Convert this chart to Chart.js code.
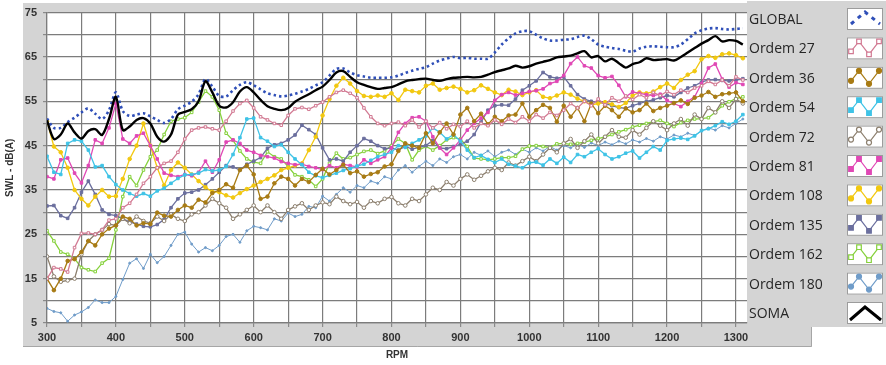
<!DOCTYPE html>
<html>
<head>
<meta charset="utf-8">
<script src="https://cdn.jsdelivr.net/npm/chart.js@4/dist/chart.umd.min.js"></script>
<style>
  body { margin: 0; background: #fff; }
  #wrap { position: relative; width: 886px; height: 365px; }
  #grafico { position: absolute; left: 0; top: 0; }
  .leg { position: absolute; left: 749px; font: 14px "Open Sans", sans-serif; color: #262626; line-height: 20px; white-space: nowrap; }
</style>
</head>
<body>
<div id="wrap">
  <canvas id="grafico" width="886" height="365"></canvas>
  <div id="legenda"></div>
</div>
<script>
// RPM (eixo x), passo de 10
const rpm = [
  300, 310, 320, 330, 340, 350, 360, 370, 380, 390,
  400, 410, 420, 430, 440, 450, 460, 470, 480, 490,
  500, 510, 520, 530, 540, 550, 560, 570, 580, 590,
  600, 610, 620, 630, 640, 650, 660, 670, 680, 690,
  700, 710, 720, 730, 740, 750, 760, 770, 780, 790,
  800, 810, 820, 830, 840, 850, 860, 870, 880, 890,
  900, 910, 920, 930, 940, 950, 960, 970, 980, 990,
  1000, 1010, 1020, 1030, 1040, 1050, 1060, 1070, 1080, 1090,
  1100, 1110, 1120, 1130, 1140, 1150, 1160, 1170, 1180, 1190,
  1200, 1210, 1220, 1230, 1240, 1250, 1260, 1270, 1280, 1290,
  1300, 1310
];

const global = [
  51.1, 49.0, 49.0, 50.3, 51.3, 52.5, 53.4, 52.2, 51.0, 53.0,
  57.0, 52.8, 51.7, 52.0, 52.3, 51.6, 50.8, 50.1, 51.0, 53.2,
  54.0, 54.9, 56.6, 60.0, 58.3, 56.2, 56.1, 57.5, 58.7, 59.3,
  58.6, 57.7, 56.8, 56.4, 56.1, 56.3, 56.7, 57.2, 57.8, 58.6,
  59.3, 60.8, 62.3, 62.4, 61.5, 60.9, 60.6, 60.3, 60.3, 60.3,
  60.4, 60.8, 61.4, 61.9, 62.3, 62.7, 63.5, 64.2, 64.6, 65.0,
  64.7, 64.8, 64.6, 64.6, 64.6, 66.0, 67.8, 69.2, 70.3, 70.8,
  70.8, 70.0, 69.2, 68.7, 68.7, 68.9, 69.0, 69.5, 69.8, 69.0,
  67.8, 67.3, 67.0, 66.8, 66.4, 66.2, 66.9, 67.3, 67.4, 67.3,
  67.2, 67.2, 67.8, 69.0, 70.3, 71.0, 71.4, 71.5, 71.3, 71.2,
  71.3, 71.5
];

const ordem27 = [
  15.0, 17.5, 17.2, 16.5, 22.0, 25.2, 25.3, 25.0, 26.0, 28.2,
  28.5, 31.0, 32.0, 34.0, 36.5, 38.0, 40.0, 41.0, 41.5, 43.5,
  46.5, 48.5, 49.0, 49.2, 48.8, 48.5, 50.5, 52.8, 54.5, 55.2,
  53.5, 51.5, 50.8, 50.0, 49.6, 51.8, 53.3, 53.6, 53.2, 54.0,
  54.8, 56.0, 57.0, 57.5, 56.8, 55.8, 53.5, 51.5, 50.0, 49.5,
  50.0, 50.3, 49.5, 50.8, 49.2, 50.5, 49.0, 50.2, 48.8, 49.8,
  49.3, 50.5, 49.0, 50.0, 49.5, 50.8, 49.8, 51.0, 50.2, 51.5,
  50.5, 52.0, 51.2, 52.5, 51.8, 53.0, 54.5, 53.5, 55.0, 54.0,
  55.5, 54.2, 55.8, 55.0, 56.2, 55.4, 56.5, 55.8, 57.0, 56.3,
  57.2, 56.5, 57.5, 57.0, 58.0, 58.5, 59.5, 58.8, 59.8, 58.5,
  60.5, 59.8
];

const ordem36 = [
  15.0, 12.4, 15.0, 19.0, 19.4, 21.0, 23.5, 22.5, 25.0, 26.3,
  27.0, 29.0, 28.5, 27.0, 27.5, 27.3, 29.9, 29.2, 29.0, 30.5,
  31.5, 31.0, 32.8, 32.2, 34.3, 35.0, 36.3, 35.5, 39.5, 40.5,
  38.5, 33.0, 33.5, 36.5, 38.0, 37.5, 36.0, 37.5, 36.8, 38.4,
  39.8, 38.5, 39.5, 40.7, 38.8, 39.2, 38.0, 38.6, 39.0, 40.3,
  40.8, 43.8, 45.5, 45.0, 44.5, 47.8, 45.5, 48.0, 50.0, 47.5,
  52.0, 53.5, 50.5, 52.2, 49.8, 51.5, 50.5, 51.8, 52.0, 54.5,
  51.5, 53.0, 54.2, 53.5, 50.4, 54.0, 51.5, 53.5, 50.5, 54.5,
  52.3, 54.0, 53.0, 51.5, 53.4, 52.5, 53.0, 54.5, 52.8, 53.5,
  54.0, 54.6, 55.2, 54.4, 55.8, 56.3, 57.1, 56.0, 56.6, 56.8,
  57.0, 55.0
];

const ordem54 = [
  42.6, 39.0, 38.5, 45.5, 46.3, 46.0, 44.0, 40.2, 40.5, 38.0,
  36.2, 35.0, 34.2, 33.6, 34.2, 33.6, 34.8, 35.4, 36.5, 37.6,
  38.4, 38.5, 38.8, 39.6, 39.3, 39.5, 40.3, 43.0, 46.8, 51.0,
  51.2, 46.8, 46.0, 44.8, 45.2, 43.5, 42.0, 40.7, 39.0, 38.2,
  37.8, 38.3, 38.8, 39.4, 39.8, 40.4, 40.8, 41.7, 42.5, 43.0,
  43.5, 45.0, 44.6, 45.5, 46.3, 47.2, 49.0, 48.0, 46.5, 47.5,
  46.0, 44.0, 42.3, 42.8, 41.9, 41.2, 42.0, 40.8, 40.4, 40.0,
  41.1, 41.3, 40.6, 42.0, 41.0, 42.4, 41.2, 43.0, 42.5, 43.5,
  44.3, 43.0, 42.0, 42.5, 43.3, 43.8, 42.2, 43.5, 44.8, 44.0,
  46.2, 46.5, 46.7, 46.4, 47.2, 48.4, 48.8, 49.5, 50.4, 49.8,
  50.5, 52.0
];

const ordem72 = [
  20.0, 15.5, 14.3, 14.6, 15.0, 20.5, 23.5, 25.0, 26.0, 27.3,
  27.0, 28.5, 27.5, 29.0, 28.0, 27.5, 29.0, 28.0, 29.5, 28.5,
  28.0, 29.5, 30.0, 31.5, 33.0, 32.0, 31.0, 28.5, 29.5, 30.5,
  31.5, 30.0, 31.5, 30.0, 28.5, 30.5, 31.3, 32.0, 30.5, 31.5,
  32.2, 31.8, 33.5, 32.5, 31.8, 32.3, 31.0, 32.5, 32.0, 33.0,
  33.4, 32.0, 31.5, 33.0, 32.5, 34.0, 35.5, 35.0, 36.8, 36.0,
  37.5, 38.5, 37.3, 38.2, 39.2, 40.0, 39.5, 41.2, 40.5, 41.5,
  42.5, 41.5, 43.0, 44.5, 43.5, 45.5, 46.5, 44.5, 46.0, 47.5,
  45.5, 47.0, 48.5, 47.0, 46.8, 48.5, 47.5, 49.0, 50.5, 49.5,
  48.5, 50.0, 51.0, 49.5, 52.0, 51.0, 53.5, 52.5, 55.0, 53.5,
  55.5, 54.5
];

const ordem81 = [
  38.0, 37.5, 41.8, 42.2, 38.8, 36.6, 40.5, 46.3, 45.5, 49.0,
  54.5, 46.5, 45.5, 47.2, 47.8, 45.0, 42.0, 38.8, 38.3, 38.0,
  38.5, 38.2, 39.0, 41.5, 39.0, 41.8, 45.8, 46.3, 45.5, 44.0,
  43.5, 42.8, 42.5, 42.2, 41.4, 41.0, 40.7, 40.8, 40.3, 40.0,
  39.6, 40.5, 40.0, 40.8, 40.5, 40.2, 41.8, 41.0, 41.8, 42.5,
  44.5, 48.0, 50.0, 51.3, 51.5, 50.5, 47.0, 44.5, 43.0, 44.5,
  46.3, 48.5, 50.0, 51.2, 52.5, 55.2, 56.5, 57.0, 56.4, 56.8,
  57.2, 57.4, 57.8, 59.0, 59.5, 60.8, 63.5, 65.0, 63.0, 62.5,
  60.8, 60.3, 60.6, 58.6, 56.0, 57.1, 56.8, 56.5, 56.3, 56.6,
  55.2, 54.5, 53.8, 55.0, 56.0, 59.0, 62.5, 63.4, 60.0, 58.2,
  59.2, 58.8
];

const ordem108 = [
  50.5, 44.8, 43.5, 40.0, 35.0, 33.0, 31.5, 33.5, 35.0, 33.5,
  33.6, 37.5, 42.0, 45.0, 50.0, 45.0, 40.0, 36.0, 39.5, 41.2,
  40.0, 38.5, 37.0, 35.6, 34.6, 34.5, 33.8, 33.3, 34.3, 35.2,
  36.0, 36.8, 37.5, 38.3, 39.5, 40.0, 40.5, 41.0, 44.0, 47.0,
  51.8, 55.5, 58.5, 60.3, 59.0, 57.3, 56.2, 56.0, 56.3, 56.0,
  56.8, 55.3, 57.6, 57.3, 57.0, 58.5, 59.0, 57.6, 58.0, 58.3,
  57.8, 57.0, 57.5, 58.6, 57.8, 57.0, 56.4, 57.6, 57.2, 56.4,
  57.0, 57.5, 56.0, 55.7, 56.3, 57.0, 56.5, 55.6, 55.0, 54.2,
  54.5, 54.8, 54.3, 53.7, 54.6, 56.3, 57.0, 56.8, 57.2, 58.2,
  59.0, 58.0, 59.8, 61.0, 61.8, 64.5, 65.2, 64.8, 65.6, 65.8,
  65.4, 64.7
];

const ordem135 = [
  31.4, 31.5, 29.2, 28.6, 31.0, 34.5, 37.0, 34.0, 30.5, 29.5,
  29.2, 28.5, 27.8, 27.3, 26.8, 26.7, 27.2, 28.4, 31.0, 33.0,
  34.3, 34.5, 35.0, 36.2, 37.5, 39.0, 40.5, 40.2, 39.5, 40.8,
  41.5, 42.3, 44.4, 45.2, 45.5, 46.3, 47.4, 49.6, 48.6, 47.5,
  44.5, 41.8, 42.0, 41.5, 43.5, 45.0, 46.6, 46.0, 45.0, 44.3,
  44.5, 44.0, 44.8, 44.2, 44.6, 45.0, 46.2, 44.5, 44.3, 44.8,
  45.3, 46.0, 47.5, 50.3, 53.0, 54.0, 54.2, 54.1, 55.5, 57.5,
  58.5, 59.6, 61.5, 60.5, 60.2, 60.5, 58.5, 56.5, 55.5, 55.0,
  54.8, 54.5, 54.0, 53.6, 53.4, 54.0, 54.5, 55.0, 55.3, 55.8,
  56.3, 56.0, 57.0, 58.0, 58.5, 59.3, 59.8, 59.9, 59.7, 59.6,
  59.8, 60.1
];

const ordem162 = [
  25.8, 23.5, 21.0, 20.5, 19.5, 17.5, 17.0, 16.6, 18.5, 19.6,
  26.0, 33.5, 38.0, 36.0, 39.5, 42.5, 44.0, 47.5, 50.5, 51.0,
  51.3, 52.5, 54.8, 57.3, 56.0, 53.0, 47.8, 46.2, 43.8, 42.0,
  41.3, 41.0, 43.6, 42.5, 42.0, 40.3, 38.4, 38.0, 37.3, 35.8,
  37.5, 41.0, 43.3, 42.0, 42.3, 43.0, 43.7, 44.0, 43.2, 43.8,
  45.0, 46.5, 45.5, 41.8, 44.0, 44.8, 44.0, 45.0, 46.3, 46.8,
  46.5, 44.8, 42.2, 42.0, 41.8, 42.0, 42.3, 42.3, 42.6, 44.2,
  44.9, 45.0, 44.8, 44.6, 45.4, 45.5, 45.3, 45.5, 45.8, 46.2,
  46.6, 47.0, 47.5, 48.1, 48.6, 49.2, 49.6, 50.0, 50.4, 50.7,
  50.0, 49.3, 50.2, 50.7, 51.0, 51.1, 51.3, 52.5, 54.0, 54.9,
  55.6, 56.0
];

const ordem180 = [
  8.3, 7.6, 7.3, 5.4, 6.8, 7.5, 8.5, 10.2, 9.6, 9.6,
  11.0, 14.8, 18.5, 19.5, 17.3, 20.5, 18.6, 20.0, 22.5, 25.0,
  25.5, 22.8, 21.0, 22.0, 21.3, 22.5, 24.5, 25.0, 23.2, 25.8,
  26.8, 26.5, 26.0, 28.5, 28.0, 29.8, 29.0, 29.5, 31.3, 31.0,
  33.6, 32.5, 34.0, 35.5, 34.5, 36.0, 35.5, 37.0, 36.5, 38.0,
  37.5, 39.5, 40.5, 39.0, 40.3, 41.5, 40.5, 42.0, 41.2, 42.5,
  43.0, 42.0, 43.5, 42.8, 43.8, 42.5, 43.5, 44.0, 43.0, 44.2,
  43.5, 44.5, 43.8, 44.8, 44.0, 45.0, 44.5, 45.3, 44.6, 45.6,
  45.0, 45.8, 45.2, 46.0, 45.4, 46.3, 45.8, 46.6, 46.0, 47.0,
  46.5, 47.4, 47.0, 47.8, 47.3, 48.3, 49.0, 48.5, 49.5, 49.0,
  50.0, 51.0
];

const soma = [
  50.7, 46.5, 47.5, 50.0, 48.0, 46.6, 48.3, 48.7, 47.4, 51.0,
  56.0, 48.5, 49.3, 50.8, 51.2, 50.0, 47.0, 45.9, 47.5, 52.0,
  52.6, 53.2, 55.0, 59.5, 57.0, 54.0, 53.6, 54.8, 57.2, 58.2,
  57.0, 55.3, 53.9, 53.3, 53.0, 53.5, 54.9, 55.8, 56.6, 57.5,
  58.3, 59.8, 61.5, 61.8, 60.5, 59.3, 58.7, 58.2, 57.8, 58.0,
  58.2, 58.8, 59.5, 59.8, 60.0, 60.1, 59.8, 59.6, 60.0, 60.3,
  60.4, 60.5, 60.4, 60.5, 61.0, 61.6, 62.0, 62.4, 63.0, 62.6,
  62.9, 63.5, 63.9, 64.3, 64.9, 65.1, 65.3, 65.8, 66.3, 64.9,
  65.2, 64.0, 64.6, 63.6, 62.6, 63.4, 63.8, 64.7, 64.3, 64.4,
  64.5, 64.2, 65.0, 66.0, 67.0, 68.0, 68.8, 69.7, 68.5, 68.8,
  68.6, 67.8
];

const xTicks = [300, 400, 500, 600, 700, 800, 900, 1000, 1100, 1200, 1300];
const yTicks = [5, 15, 25, 35, 45, 55, 65, 75];

// series: nome, valores, cor, marcador
const series = [
  { nome: 'GLOBAL', vals: global, cor: '#2f4fb8', estilo: 'global' },
  { nome: 'Ordem 27', vals: ordem27, cor: '#d27a93', ponto: 'rect', vazio: true },
  { nome: 'Ordem 36', vals: ordem36, cor: '#a87b14', ponto: 'circle' },
  { nome: 'Ordem 54', vals: ordem54, cor: '#3fc3e6', ponto: 'rect' },
  { nome: 'Ordem 72', vals: ordem72, cor: '#8c7f6e', ponto: 'circle', vazio: true },
  { nome: 'Ordem 81', vals: ordem81, cor: '#e048b5', ponto: 'rect' },
  { nome: 'Ordem 108', vals: ordem108, cor: '#f2c80f', ponto: 'circle' },
  { nome: 'Ordem 135', vals: ordem135, cor: '#6b6f9e', ponto: 'rect' },
  { nome: 'Ordem 162', vals: ordem162, cor: '#86d13c', ponto: 'rect', vazio: true },
  { nome: 'Ordem 180', vals: ordem180, cor: '#6f9cc9', ponto: 'circle', fino: true },
  { nome: 'SOMA', vals: soma, cor: '#000000', estilo: 'soma' }
];

const pontos = (vals) => vals.map((v, i) => ({ x: rpm[i], y: v }));

const datasets = series.map((s, i) => {
  if (s.estilo === 'global') {
    return { label: s.nome, data: pontos(s.vals), borderColor: s.cor, borderWidth: 2.6,
      borderDash: [2.5, 3], pointRadius: 0, tension: 0.3, order: 1 };
  }
  if (s.estilo === 'soma') {
    return { label: s.nome, data: pontos(s.vals), borderColor: s.cor, borderWidth: 2.4,
      pointRadius: 0, tension: 0.3, order: 0 };
  }
  return {
    label: s.nome,
    data: pontos(s.vals),
    borderColor: s.cor,
    borderWidth: s.fino ? 1 : 1.3,
    pointStyle: s.ponto,
    pointRadius: s.fino ? 1 : 1.8,
    pointBorderWidth: 1,
    pointBackgroundColor: s.vazio ? '#ffffff' : s.cor,
    pointBorderColor: s.cor,
    tension: 0,
    order: 2 + i
  };
});

// fundo cinza, área branca e painel da legenda
const moldura = {
  id: 'moldura',
  beforeDraw(chart) {
    const ctx = chart.ctx;
    const a = chart.chartArea;
    ctx.save();
    ctx.fillStyle = '#ffffff';
    ctx.fillRect(0, 0, 886, 365);
    ctx.fillStyle = '#d4d4d4';
    ctx.fillRect(23, 3, 724, 344);
    ctx.fillRect(747, 1, 139, 326);
    ctx.fillRect(747, 327, 65, 20);
    ctx.strokeStyle = '#a6a6a6';
    ctx.lineWidth = 1;
    ctx.beginPath();
    ctx.moveTo(23, 346.5); ctx.lineTo(811.5, 346.5); ctx.lineTo(811.5, 327);
    ctx.stroke();
    ctx.fillStyle = '#ffffff';
    ctx.fillRect(a.left, a.top, a.right - a.left, a.bottom - a.top);
    ctx.restore();
  },
  afterDraw(chart) {
    const ctx = chart.ctx;
    ctx.save();
    series.forEach((s, i) => {
      const cy = 18 + i * 29.4;
      ctx.fillStyle = '#ffffff';
      ctx.fillRect(847, cy - 10, 36, 22);
      ctx.strokeStyle = '#9c9c9c';
      ctx.lineWidth = 1;
      ctx.strokeRect(847.5, cy - 9.5, 35, 21);
      ctx.strokeStyle = s.cor;
      if (s.estilo === 'global') {
        ctx.lineWidth = 3;
        ctx.setLineDash([4, 5]);
        ctx.beginPath();
        ctx.moveTo(851, cy + 6); ctx.lineTo(865, cy - 6); ctx.lineTo(880, cy + 6);
        ctx.stroke();
        ctx.setLineDash([]);
        return;
      }
      if (s.estilo === 'soma') {
        ctx.lineWidth = 3;
        ctx.beginPath();
        ctx.moveTo(850, cy + 8); ctx.lineTo(865, cy - 5); ctx.lineTo(881, cy + 8);
        ctx.stroke();
        return;
      }
      const pts = [[851, cy + 4], [859, cy - 6], [869, cy + 7], [879, cy - 6]];
      ctx.lineWidth = 1.2;
      ctx.beginPath();
      pts.forEach((p, k) => (k ? ctx.lineTo(p[0], p[1]) : ctx.moveTo(p[0], p[1])));
      ctx.stroke();
      pts.forEach(p => {
        ctx.fillStyle = s.vazio ? '#ffffff' : s.cor;
        ctx.beginPath();
        if (s.ponto === 'rect') ctx.rect(p[0] - 2.3, p[1] - 2.3, 4.6, 4.6);
        else ctx.arc(p[0], p[1], 2.5, 0, Math.PI * 2);
        ctx.fill();
        ctx.stroke();
      });
    });
    ctx.restore();
  }
};

const fonteEixo = { family: '"Liberation Sans", Arial, sans-serif', size: 11, weight: 'bold' };

new Chart(document.getElementById('grafico'), {
  type: 'line',
  data: { datasets: datasets },
  options: {
    responsive: false,
    animation: false,
    layout: { padding: { top: 10, right: 139, left: 0, bottom: 0 } },
    plugins: { legend: { display: false }, tooltip: { enabled: false } },
    scales: {
      x: {
        type: 'linear',
        min: 300,
        max: 1316,
        afterFit: (s) => { s.height = 42; },
        ticks: {
          stepSize: 50,
          includeBounds: false,
          color: '#333',
          font: fonteEixo,
          padding: 4,
          maxRotation: 0,
          autoSkip: false,
          callback: (v) => (xTicks.includes(v) ? String(v) : '')
        },
        grid: { color: '#7c7c7c', lineWidth: 1.2, tickLength: 4, tickColor: '#8a8a8a' },
        border: { color: '#7c7c7c', width: 1.2 },
        title: { display: true, text: 'RPM', color: '#333', font: { family: '"Liberation Sans", Arial, sans-serif', size: 10, weight: 'bold' }, padding: { top: 2, bottom: 4 } }
      },
      y: {
        min: 5,
        max: 75,
        afterFit: (s) => { s.width = 47; },
        ticks: {
          stepSize: 5,
          color: '#333',
          font: fonteEixo,
          padding: 6,
          autoSkip: false,
          callback: (v) => (yTicks.includes(v) ? String(v) : '')
        },
        grid: { color: '#7c7c7c', lineWidth: 1.2, tickLength: 4, tickColor: '#8a8a8a' },
        border: { color: '#7c7c7c', width: 1.2 },
        title: { display: true, text: 'SWL - dB(A)', color: '#333', font: { family: '"Liberation Sans", Arial, sans-serif', size: 10, weight: 'bold' }, padding: { top: 4, bottom: 2 } }
      }
    }
  },
  plugins: [moldura]
});

// textos da legenda
const legenda = document.getElementById('legenda');
series.forEach((s, i) => {
  const d = document.createElement('div');
  d.className = 'leg';
  d.style.top = (18 + i * 29.4 - 9) + 'px';
  d.textContent = s.nome;
  legenda.appendChild(d);
});
</script>
</body>
</html>
